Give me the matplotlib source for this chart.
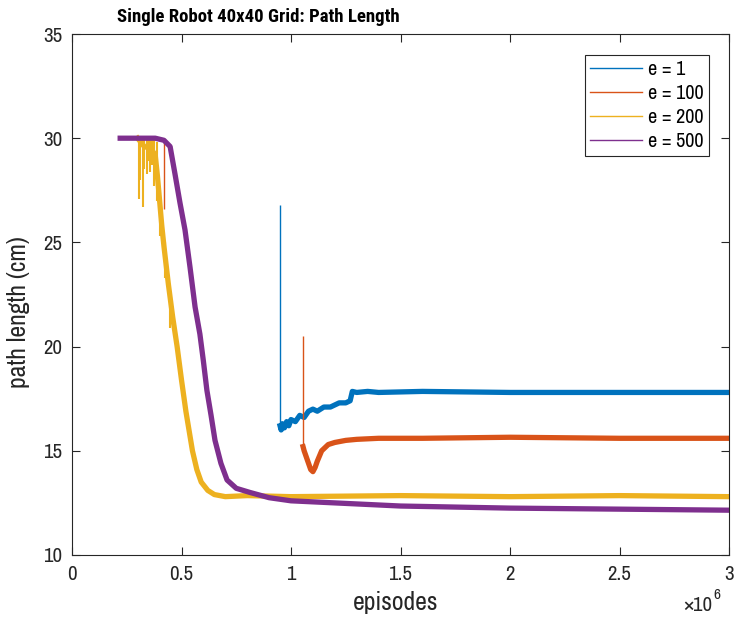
import numpy as np
import matplotlib
matplotlib.use("Agg")
import matplotlib.pyplot as plt

plt.rcParams['font.family'] = ['Archivo Narrow', 'Liberation Sans', 'DejaVu Sans']
title_font = ['Roboto Condensed', 'IBM Plex Sans Condensed', 'DejaVu Sans']

# data (x in millions of episodes, y = path length in cm)
e1_x = [0.950, 0.955, 0.96, 0.97, 0.98, 0.99, 1.00, 1.02, 1.04, 1.06, 1.08, 1.10, 1.12,
        1.15, 1.18, 1.20, 1.22, 1.25, 1.27, 1.28, 1.30, 1.35, 1.40, 1.60, 2.00, 2.50, 3.00]
e1_y = [16.2, 16.0, 16.3, 16.1, 16.4, 16.2, 16.5, 16.4, 16.7, 16.6, 16.9, 17.0, 16.9,
        17.1, 17.1, 17.2, 17.3, 17.3, 17.4, 17.85, 17.8, 17.85, 17.8, 17.85, 17.8, 17.8, 17.8]
e1_spike = (0.950, 16.0, 26.8)

e100_x = [1.055, 1.06, 1.07, 1.08, 1.09, 1.10, 1.11, 1.12, 1.14, 1.17, 1.20, 1.25, 1.30,
          1.40, 1.60, 2.00, 2.50, 3.00]
e100_y = [15.2, 15.0, 14.7, 14.4, 14.1, 14.0, 14.2, 14.5, 15.0, 15.3, 15.4, 15.5, 15.55,
          15.6, 15.6, 15.65, 15.6, 15.6]
e100_spikes = [(1.055, 15.2, 20.5), (0.421, 26.6, 30.0)]

e200_x = [0.30, 0.33, 0.36, 0.38, 0.39, 0.40, 0.41, 0.42, 0.44, 0.46, 0.48, 0.50, 0.52,
          0.55, 0.57, 0.59, 0.62, 0.65, 0.70, 0.80, 1.00, 1.50, 2.00, 2.50, 3.00]
e200_y = [30.0, 29.6, 29.5, 29.2, 28.2, 27.0, 25.8, 24.8, 23.0, 21.4, 20.0, 18.4, 16.9,
          15.0, 14.1, 13.5, 13.1, 12.9, 12.8, 12.85, 12.8, 12.85, 12.8, 12.85, 12.8]
e200_dips_x = [0.306, 0.312, 0.325, 0.331, 0.341, 0.349, 0.356, 0.365, 0.374, 0.387,
               0.403, 0.425, 0.447]
e200_dips_lo = [27.1, 28.0, 26.7, 28.5, 28.3, 28.9, 28.4, 28.7, 27.7, 27.0,
                25.3, 23.3, 20.9]
e200_dips_hi = [30.0, 30.0, 30.0, 30.0, 30.0, 30.0, 30.0, 30.0, 30.0, 29.8,
                27.5, 25.0, 22.6]

e500_x = [0.22, 0.30, 0.38, 0.42, 0.448, 0.47, 0.493, 0.516, 0.539, 0.562, 0.584, 0.60,
          0.616, 0.635, 0.653, 0.68, 0.708, 0.75, 0.813, 0.90, 1.00, 1.20, 1.50, 2.00,
          2.50, 3.00]
e500_y = [30.0, 30.0, 30.0, 29.9, 29.6, 28.3, 26.9, 25.6, 23.8, 21.9, 20.6, 19.3,
          17.9, 16.7, 15.5, 14.4, 13.6, 13.2, 13.0, 12.75, 12.6, 12.5, 12.35, 12.25,
          12.2, 12.15]

labels = ['e = 1', 'e = 100', 'e = 200', 'e = 500']
colors = ['#0072BD', '#D95319', '#EDB120', '#7E2F8E']
ink = '#262626'

W, H = 735, 622
fig = plt.figure(figsize=(W / 100, H / 100), dpi=100)
ax = fig.add_axes([72 / W, 1 - 555 / H, 657 / W, 521 / H])

lw = 3.8
# e = 1
ax.plot(np.array(e1_x) * 1e6, e1_y, color=colors[0], lw=lw, label=labels[0])
ax.vlines(e1_spike[0] * 1e6, e1_spike[1], e1_spike[2], color=colors[0], lw=1.0)
# e = 100
ax.plot(np.array(e100_x) * 1e6, e100_y, color=colors[1], lw=lw, label=labels[1])
for sx, lo, hi in e100_spikes:
    ax.vlines(sx * 1e6, lo, hi, color=colors[1], lw=1.0)
# e = 200
ax.plot(np.array(e200_x) * 1e6, e200_y, color=colors[2], lw=lw, label=labels[2])
ax.vlines(np.array(e200_dips_x) * 1e6, e200_dips_lo, e200_dips_hi, color=colors[2], lw=1.5)
# e = 500
ax.plot(np.array(e500_x) * 1e6, e500_y, color=colors[3], lw=lw, label=labels[3])

ax.set_xlim(0, 3e6)
ax.set_ylim(10, 35)
ax.set_xticks(np.arange(0, 3.01e6, 0.5e6))
ax.set_xticklabels(['0', '0.5', '1', '1.5', '2', '2.5', '3'])
ax.set_yticks([10, 15, 20, 25, 30, 35])
ax.tick_params(direction='in', top=True, right=True, length=6, width=0.8,
               labelsize=15, colors=ink, pad=7)
for sp in ax.spines.values():
    sp.set_color(ink)
    sp.set_linewidth(0.8)

fig.text(396 / W, 1 - 602 / H, 'episodes', fontsize=18.5, color=ink, ha='center', va='center')
fig.text(19 / W, 1 - 312 / H, 'path length (cm)', fontsize=18.5, color=ink,
         ha='center', va='center', rotation=90)
fig.text(117 / W, 1 - 17 / H, 'Single Robot 40x40 Grid: Path Length', fontsize=13.5,
         fontweight='bold', family=title_font, ha='left', va='center')
fig.text(683 / W, 1 - 611 / H, '×10', fontsize=15, color=ink, ha='left', va='baseline')
fig.text(713 / W, 1 - 599 / H, '6', fontsize=11, color=ink, ha='left', va='baseline')

leg = ax.legend(loc='upper right', bbox_to_anchor=((709 - 72) / 657, (555 - 55) / 521),
                borderaxespad=0, fontsize=14.5, fancybox=False, framealpha=1,
                edgecolor=ink, handlelength=2.6, handletextpad=0.3, labelspacing=0.25,
                borderpad=0.25)
for h in leg.get_lines():
    h.set_linewidth(1.0)
leg.get_frame().set_linewidth(0.8)

fig.savefig('out.png', dpi=100)
